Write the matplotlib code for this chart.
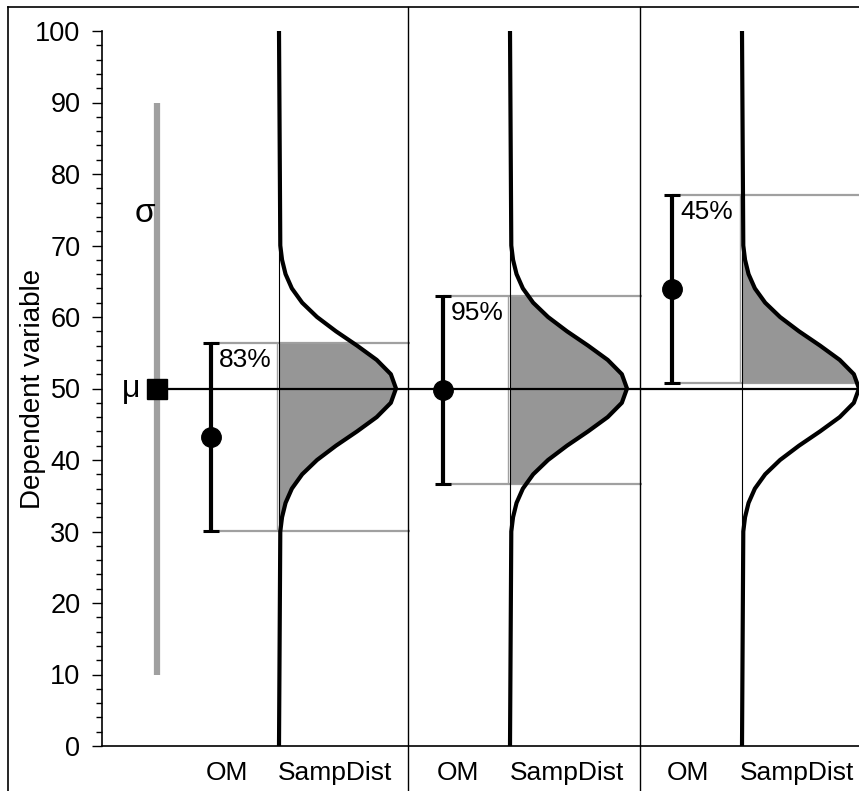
import numpy as np
import matplotlib
matplotlib.use('Agg')
import matplotlib.pyplot as plt
from matplotlib.lines import Line2D

plt.rcParams['font.family'] = ['Liberation Sans', 'DejaVu Sans']

# values
mu = 50
sigma_span = [10, 90]
om_means = [43.2, 49.8, 63.9]
ci_half = [13.1, 13.1, 13.1]
capture = ['83%', '95%', '45%']
dist_levels = [30, 32, 34, 36, 38, 40, 42, 44, 46, 48, 50,
               52, 54, 56, 58, 60, 62, 64, 66, 68, 70]
dist_shape = [0.011, 0.026, 0.056, 0.110, 0.198, 0.325, 0.487, 0.667, 0.835, 0.956, 1.0,
              0.956, 0.835, 0.667, 0.487, 0.325, 0.198, 0.110, 0.056, 0.026, 0.011]
cat_labels = ['OM', 'SampDist', 'OM', 'SampDist', 'OM', 'SampDist']

# layout (x in pixel-like units from the y axis)
W, H = 859, 791
sig_x = 55
om_x = [109, 341, 570]
sd_x = [177, 408, 640]
div_x = [306, 538]
line_end = [308, 540, 757]
cat_x = [125, 233, 356, 465, 586, 695]
peak_w = 117
gray = '#a0a0a0'

fig = plt.figure(figsize=(W / 100, H / 100), dpi=100)
ax = fig.add_axes([102 / W, 45 / H, 757 / W, 715 / H])
ax.set_xlim(0, 757)
ax.set_ylim(0, 100)
for s in ['top', 'right']:
    ax.spines[s].set_visible(False)
for s in ['left', 'bottom']:
    ax.spines[s].set_linewidth(1.2)
ax.set_xticks([])
ax.set_yticks(np.arange(0, 101, 10))
ax.set_yticks(np.arange(0, 101, 2), minor=True)
ax.tick_params(axis='y', which='major', length=7.5, width=1, labelsize=19.5, pad=8)
ax.tick_params(axis='y', which='minor', length=4.3, width=1)

# sigma bar and mu
ax.plot([sig_x, sig_x], sigma_span, color=gray, lw=4.5, solid_capstyle='butt', zorder=2)
ax.plot([sig_x, 757], [mu, mu], color='k', lw=1.6, zorder=5)
ax.plot(sig_x, mu, 's', ms=14, color='k', zorder=6)
ax.text(sig_x - 12, 74.5, 'σ', ha='center', va='center', fontsize=24)
ax.text(sig_x - 26, mu, 'μ', ha='center', va='center', fontsize=23)

lv = np.array(dist_levels, dtype=float)
sh = np.array(dist_shape)
for i in range(3):
    lo, hi = om_means[i] - ci_half[i], om_means[i] + ci_half[i]
    ax.hlines([lo, hi], om_x[i], line_end[i], color=gray, lw=1.6, zorder=1)
    ys = np.concatenate([[lo], lv[(lv > lo) & (lv < hi)], [hi]])
    ws = np.interp(ys, lv, sh, left=0, right=0) * peak_w
    ax.fill_betweenx(ys, sd_x[i], sd_x[i] + ws, color='#969696', lw=0, zorder=2)
    ax.vlines(sd_x[i] - 2, lo, hi, color=gray, lw=1, zorder=2)
    ax.vlines(sd_x[i], dist_levels[0], dist_levels[-1], color='k', lw=0.8, zorder=3)
    cy = np.concatenate([[0], lv, [100]])
    cx = sd_x[i] + np.concatenate([[0], sh, [0]]) * peak_w
    ax.plot(cx, cy, color='k', lw=3, zorder=4, solid_joinstyle='round')
    ax.errorbar(om_x[i], om_means[i], yerr=ci_half[i], fmt='o', color='k', ms=14,
                elinewidth=3, capsize=6, capthick=2.2, zorder=6)
    ax.text(om_x[i] + 8, hi - 0.6, capture[i], ha='left', va='top', fontsize=19, zorder=7)

for d in div_x:
    ax.axvline(d, ymin=-45 / 715, ymax=1 + 24 / 715, color='k', lw=1, clip_on=False)

for x, t in zip(cat_x, cat_labels):
    ax.text(x, -0.038, t, transform=ax.get_xaxis_transform(), ha='center', va='center', fontsize=19)

ax.text(-69 / 757, 0.5, 'Dependent variable', rotation=90, transform=ax.transAxes,
        ha='center', va='center', fontsize=20)

fig.add_artist(Line2D([8 / W, 8 / W], [0, 1 - 7 / H], color='k', lw=1.2))
fig.add_artist(Line2D([8 / W, 1], [1 - 7 / H, 1 - 7 / H], color='k', lw=1.2))

fig.savefig('out.png', dpi=100)
